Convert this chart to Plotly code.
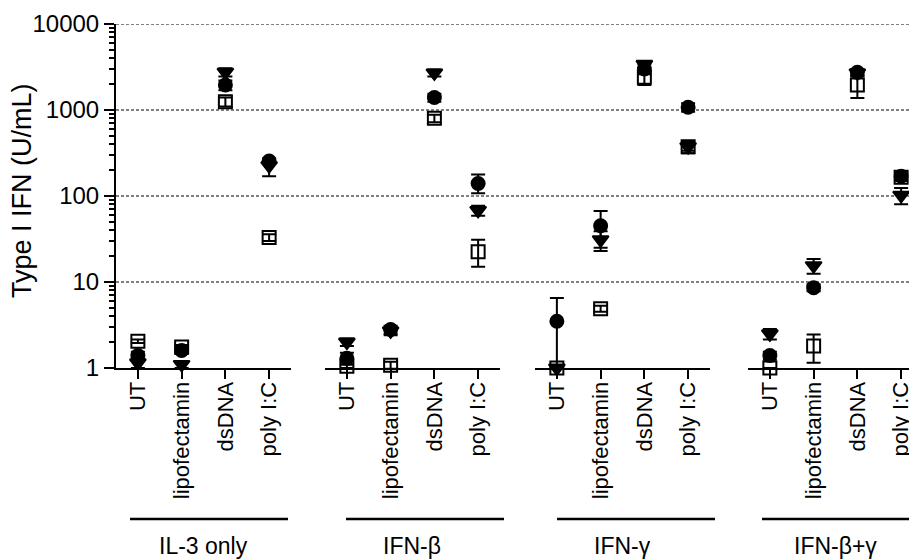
import plotly.graph_objects as go

groups = ["IL-3 only", "IFN-β", "IFN-γ", "IFN-β+γ"]
categories = ["UT", "lipofectamin", "dsDNA", "poly I:C"]
y_tick_vals = [1, 10, 100, 1000, 10000]
y_tick_text = ["1", "10", "100", "1000", "10000"]

# values per group (rows) and category (columns)
circle_vals = [[1.4, 1.6, 1950, 255], [1.3, 2.8, 1400, 140], [3.5, 45, 3000, 1075], [1.4, 8.6, 2750, 170]]
circle_err_plus = [[0.15, 0.15, 250, 20], [0.2, 0.3, 150, 38], [3.0, 22, 400, 120], [0.15, 0.8, 250, 15]]
circle_err_minus = [[0.15, 0.15, 250, 20], [0.2, 0.3, 150, 32], [2.5, 20, 400, 120], [0.15, 0.8, 250, 15]]

triangle_vals = [[1.15, 1.1, 2750, 225], [2.0, 2.7, 2700, 68], [1.0, 31, 3400, 375], [2.5, 15.5, 2700, 102]]
triangle_err_plus = [[0.15, 0.1, 300, 30], [0.2, 0.3, 250, 9], [0.0, 8, 300, 40], [0.35, 3, 250, 22]]
triangle_err_minus = [[0.15, 0.1, 300, 55], [0.2, 0.3, 250, 9], [0.0, 8, 300, 40], [0.35, 3, 250, 22]]

square_vals = [[2.05, 1.75, 1250, 33], [1.05, 1.08, 800, 22.5], [1.0, 4.9, 2400, 375], [1.0, 1.8, 1950, 165]]
square_err_plus = [[0.1, 0.1, 150, 3], [0.05, 0.1, 80, 8.5], [0.0, 0.4, 450, 60], [0.0, 0.65, 570, 15]]
square_err_minus = [[0.1, 0.1, 150, 3], [0.05, 0.1, 80, 7.5], [0.0, 0.4, 450, 60], [0.0, 0.65, 570, 15]]

FONT = "Arial, Liberation Sans, sans-serif"

series = [
    ("square", square_vals, square_err_plus, square_err_minus, "square-open", 13),
    ("triangle", triangle_vals, triangle_err_plus, triangle_err_minus, "triangle-down", 14),
    ("circle", circle_vals, circle_err_plus, circle_err_minus, "circle", 13),
]

# page body has an 8px margin, so the figure is shifted by (8, 8)
OFF = 8
L, T = 116 - OFF, 24 - OFF
PW, PH = 801, 344

domains = [[0, 0.21848], [0.26092, 0.47940], [0.52310, 0.74157], [0.78901, 1.0]]
ranges = [[-0.5, 3.5], [-0.5, 3.5], [-0.5, 3.5], [-0.5, 3.363]]
axis_names = ["x", "x2", "x3", "x4"]

fig = go.Figure()
for name, vals, ep, em, sym, size in series:
    for g in range(4):
        fig.add_trace(go.Scatter(
            x=categories, y=vals[g], mode="markers",
            xaxis=axis_names[g], yaxis="y",
            marker=dict(symbol=sym, size=size, color="black",
                        line=dict(color="black", width=2)),
            error_y=dict(type="data", symmetric=False, array=ep[g], arrayminus=em[g],
                         color="black", thickness=2, width=7),
            cliponaxis=False, showlegend=False, name=name,
        ))

layout = dict(
    width=917 - OFF, height=560 - OFF,
    margin=dict(l=L, r=0, t=T, b=560 - OFF - T - PH, pad=0),
    paper_bgcolor="white", plot_bgcolor="white",
    font=dict(family=FONT, size=23, color="black"),
    yaxis=dict(type="log", range=[0, 4], tickvals=y_tick_vals, ticktext=y_tick_text,
               showline=True, linecolor="black", linewidth=2,
               ticks="outside", ticklen=10, tickwidth=2, tickcolor="black",
               showgrid=False, zeroline=False,
               tickfont=dict(family=FONT, size=24),
               minor=dict(ticks="outside", ticklen=5, tickwidth=1.5, tickcolor="black",
                          tickvals=[k * 10 ** d for d in range(4) for k in range(2, 10)],
                          showgrid=False)),
)
for i, (ax, dom, rng) in enumerate(zip(axis_names, domains, ranges)):
    key = "xaxis" if ax == "x" else "xaxis" + ax[1:]
    layout[key] = dict(domain=dom, range=rng, type="category",
                       categoryorder="array", categoryarray=categories,
                       anchor="y", showline=True, linecolor="black", linewidth=2,
                       ticks="outside", ticklen=9, tickwidth=2, tickcolor="black",
                       tickangle=-90, showgrid=False, zeroline=False,
                       ticklabelstandoff=-6,
                       tickfont=dict(family=FONT, size=22))
fig.update_layout(**layout)

# dashed horizontal gridlines across the whole plot width
for v in y_tick_vals[1:]:
    fig.add_shape(type="line", xref="paper", yref="y", x0=0, x1=1, y0=v, y1=v,
                  line=dict(color="black", width=1, dash="3px,2px"), layer="below")

# group underline bars and labels (page pixel positions converted to paper coords)
line_px = [(130, 288), (346, 504), (557, 715), (762, 917)]
label_px = [203.5, 412, 622, 835.5]
for (a, b), cx, g in zip(line_px, label_px, groups):
    fig.add_shape(type="line", xref="paper", yref="paper",
                  x0=(a - 116) / PW, x1=(b - 116) / PW, y0=-(519 - 368) / PH, y1=-(519 - 368) / PH,
                  line=dict(color="black", width=2.5))
    fig.add_annotation(text=g, xref="paper", yref="paper", x=(cx - 116) / PW,
                       y=-(546 - 368) / PH, showarrow=False, xanchor="center", yanchor="middle",
                       font=dict(family=FONT, size=23, color="black"))

fig.add_annotation(text="Type I IFN (U/mL)", xref="paper", yref="paper",
                   x=(22 - 116) / PW, y=(368 - 191) / PH, textangle=-90, showarrow=False,
                   xanchor="center", yanchor="middle",
                   font=dict(family=FONT, size=27, color="black"))

fig.write_html("out.html")
